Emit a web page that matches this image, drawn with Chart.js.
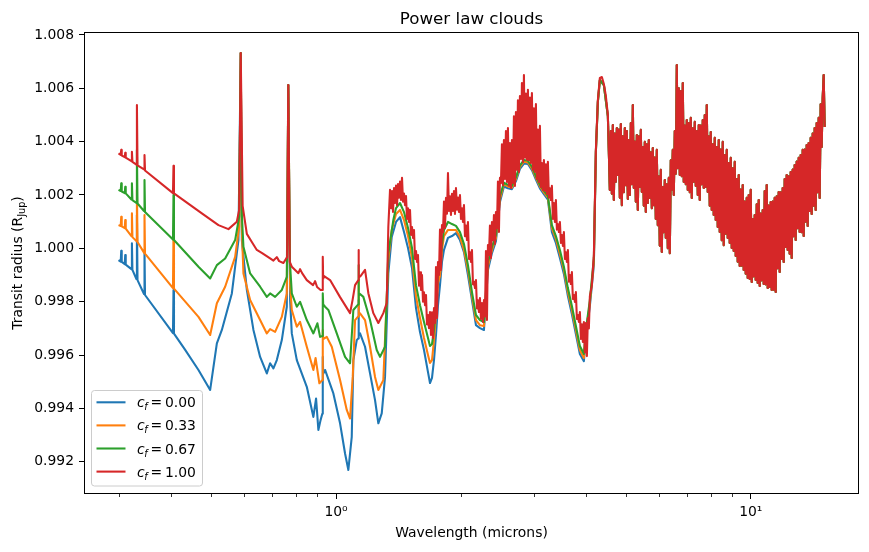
<!DOCTYPE html>
<html>
<head>
<meta charset="utf-8">
<script src="https://cdn.jsdelivr.net/npm/chart.js"></script>
<style>
  body { margin: 0; background: #fff; }
  canvas { display: block; }
</style>
</head>
<body>
<canvas id="spectrum" width="869" height="552"></canvas>
<script>
// [wavelength (microns), transit radius (R_Jup)]

// short-wavelength part of each curve, up to ~1.36 micron
const blueHead = [
  [0.2988, 0.99956],
  [0.30251, 0.99950], [0.30335, 0.99991], [0.30419, 0.99949],
  [0.30930, 0.99941], [0.31016, 0.99975], [0.31102, 0.99939],
  [0.32101, 0.99922], [0.32190, 1.00019], [0.32280, 0.99919],
  [0.33004, 0.99885], [0.33096, 1.00125], [0.33206, 0.99881],
  [0.34425, 0.99829], [0.34521, 0.99994], [0.34617, 0.99825],
  [0.40435, 0.99682], [0.40548, 0.99844], [0.40660, 0.99680],
  [0.43267, 0.99619], [0.46581, 0.99544], [0.49705, 0.99469],
  [0.51588, 0.99644], [0.53039, 0.99694], [0.56064, 0.99831],
  [0.58156, 1.00031], [0.589, 1.00732], [0.59263, 1.00031],
  [0.60931, 0.99844], [0.63203, 0.99694], [0.65597, 0.99593],
  [0.68082, 0.99531], [0.69339, 0.99569], [0.70620, 0.99550],
  [0.71966, 0.99581], [0.73990, 0.99656], [0.76072, 0.99781],
  [0.767, 1.00612], [0.77477, 0.99806], [0.78211, 0.99681],
  [0.80412, 0.99581], [0.85001, 0.99481], [0.88166, 0.99368],
  [0.89496, 0.99437], [0.90646, 0.99319], [0.91759, 0.99356],
  [0.9265, 0.99380], [0.92884, 0.99593], [0.9310, 0.99530],
  [0.94079, 0.99544], [0.98514, 0.99456], [1.02244, 0.99344],
  [1.05121, 0.99231], [1.07063, 0.99169], [1.09101, 0.99293],
  [1.10074, 0.99581], [1.12172, 0.99656], [1.1310, 0.99662],
  [1.13296, 0.99806], [1.1349, 0.99675], [1.14244, 0.99681],
  [1.17458, 0.99631], [1.20762, 0.99531], [1.24160, 0.99431],
  [1.26454, 0.99344], [1.28861, 0.99381], [1.31242, 0.99518],
  [1.33667, 0.99906], [1.36213, 1.00043]
];

const orangeHead = [
  [0.2988, 1.00087],
  [0.30251, 1.00084], [0.30335, 1.00118], [0.30419, 1.00082],
  [0.30930, 1.00076], [0.31016, 1.00106], [0.31102, 1.00074],
  [0.32101, 1.00046], [0.32190, 1.00131], [0.32280, 1.00042],
  [0.33004, 1.00027], [0.33096, 1.00219], [0.33206, 1.00024],
  [0.34425, 0.99984], [0.34521, 1.00125], [0.34617, 0.99980],
  [0.40435, 0.99851], [0.40548, 1.00050], [0.40660, 0.99849],
  [0.46581, 0.99743], [0.49705, 0.99675], [0.51588, 0.99794],
  [0.54019, 0.99856], [0.57101, 0.99968], [0.58382, 1.00081],
  [0.589, 1.00732], [0.59263, 1.00069], [0.59792, 0.99906],
  [0.62056, 0.99806], [0.65597, 0.99731], [0.68082, 0.99681],
  [0.69339, 0.99697], [0.71290, 0.99687], [0.73990, 0.99743],
  [0.76072, 0.99831], [0.767, 1.00612], [0.77477, 0.99862],
  [0.78211, 0.99769], [0.80412, 0.99706], [0.81898, 0.99724],
  [0.85001, 0.99631], [0.88166, 0.99544], [0.89248, 0.99589],
  [0.91149, 0.99494], [0.92629, 0.99506], [0.92884, 0.99694],
  [0.9310, 0.99660], [0.94972, 0.99668], [0.97643, 0.99631],
  [1.02244, 0.99506], [1.06118, 0.99394], [1.08077, 0.99362],
  [1.09706, 0.99518], [1.11118, 0.99731], [1.1310, 0.99745],
  [1.13296, 0.99881], [1.1349, 0.99750], [1.14244, 0.99756],
  [1.17458, 0.99731], [1.20762, 0.99631], [1.24160, 0.99518],
  [1.26454, 0.99469], [1.30010, 0.99506], [1.33667, 0.99956],
  [1.36213, 1.00069]
];

const greenHead = [
  [0.2988, 1.00219],
  [0.30251, 1.00215], [0.30335, 1.00244], [0.30419, 1.00213],
  [0.30930, 1.00207], [0.31016, 1.00231], [0.31102, 1.00206],
  [0.32101, 1.00183], [0.32190, 1.00244], [0.32280, 1.00181],
  [0.33004, 1.00170], [0.33096, 1.00369], [0.33206, 1.00168],
  [0.34425, 1.00140], [0.34521, 1.00256], [0.34617, 1.00136],
  [0.40435, 1.00033], [0.40548, 1.00200], [0.40660, 1.00031],
  [0.46581, 0.99931], [0.49705, 0.99887], [0.51588, 0.99937],
  [0.54019, 0.99962], [0.57101, 1.00031], [0.58382, 1.00118],
  [0.589, 1.00732], [0.59263, 1.00125], [0.59792, 1.00006],
  [0.62056, 0.99906], [0.65597, 0.99856], [0.68082, 0.99818],
  [0.69339, 0.99831], [0.71290, 0.99818], [0.73990, 0.99844],
  [0.76072, 0.99893], [0.767, 1.00612], [0.77391, 0.99949],
  [0.78211, 0.99831], [0.80412, 0.99781], [0.81898, 0.99799],
  [0.85001, 0.99731], [0.88166, 0.99681], [0.90144, 0.99719],
  [0.91505, 0.99668], [0.92629, 0.99671], [0.92884, 0.99831],
  [0.9310, 0.99790], [0.94079, 0.99781], [0.95818, 0.99769],
  [1.00389, 0.99681], [1.05121, 0.99593], [1.08077, 0.99569],
  [1.10074, 0.99769], [1.1310, 0.99790], [1.13296, 0.99937],
  [1.1349, 0.99825], [1.14244, 0.99829], [1.16355, 0.99818],
  [1.20762, 0.99731], [1.25337, 0.99619], [1.27651, 0.99593],
  [1.31242, 0.99631], [1.33667, 0.99981], [1.37427, 1.00106]
];

const redHead = [
  [0.2988, 1.00356],
  [0.30251, 1.00350], [0.30335, 1.00369], [0.30419, 1.00348],
  [0.30930, 1.00342], [0.31016, 1.00358], [0.31102, 1.00340],
  [0.32101, 1.00327], [0.32190, 1.00362], [0.32280, 1.00324],
  [0.33004, 1.00314], [0.33096, 1.00537], [0.33206, 1.00311],
  [0.34425, 1.00296], [0.34521, 1.00350], [0.34617, 1.00292],
  [0.40435, 1.00207], [0.40548, 1.00309], [0.40660, 1.00206],
  [0.47468, 1.00131], [0.52048, 1.00087], [0.55017, 1.00072],
  [0.57642, 1.00100], [0.58382, 1.00144], [0.589, 1.00732],
  [0.59527, 1.00159], [0.60931, 1.00054], [0.62644, 1.00024],
  [0.64407, 0.99994], [0.66329, 0.99982], [0.69339, 0.99962],
  [0.70620, 0.99954], [0.71966, 0.99967], [0.72889, 0.99952],
  [0.74649, 0.99945], [0.76198, 0.99967], [0.767, 1.00612],
  [0.77348, 0.99949], [0.78211, 0.99931], [0.81129, 0.99907],
  [0.81898, 0.99922], [0.82812, 0.99907], [0.85001, 0.99881],
  [0.88019, 0.99862], [0.89001, 0.99877], [0.89995, 0.99855],
  [0.91759, 0.99844], [0.92629, 0.99844], [0.92884, 0.99968],
  [0.9310, 0.99885], [0.93559, 0.99896], [0.96726, 0.99881],
  [1.02244, 0.99817], [1.08077, 0.99757], [1.09587, 0.99806],
  [1.11118, 0.99862], [1.1310, 0.99880], [1.13296, 0.99994],
  [1.1349, 0.99890], [1.14561, 0.99896], [1.17458, 0.99919],
  [1.19628, 0.99832], [1.22994, 0.99757], [1.26454, 0.99720],
  [1.30010, 0.99757], [1.32487, 0.99795], [1.33667, 1.00080]
];

// 1.35 - 4.5 micron: red is a dense noisy band (top/bottom of the band, one per pixel)
const redMid = [
  [1.34934, 1.00219], [1.35685, 1.00150], [1.36440, 1.00215], [1.37199, 1.00136],
  [1.37962, 1.00226], [1.38730, 1.00170], [1.39502, 1.00235], [1.40278, 1.00162],
  [1.41058, 1.00241], [1.41843, 1.00190], [1.42632, 1.00250], [1.43426, 1.00181],
  [1.44224, 1.00264], [1.45026, 1.00175], [1.45833, 1.00205], [1.46644, 1.00162],
  [1.47460, 1.00196], [1.48280, 1.00110], [1.49106, 1.00150], [1.49936, 1.00099],
  [1.50769, 1.00144], [1.51608, 1.00050], [1.52451, 1.00080], [1.53299, 1.00039],
  [1.54153, 1.00069], [1.55011, 0.99960], [1.55873, 0.99990], [1.56740, 0.99949],
  [1.57612, 0.99975], [1.58489, 0.99860], [1.59371, 0.99910], [1.60258, 0.99844],
  [1.61149, 0.99900], [1.62046, 0.99800], [1.62947, 0.99835], [1.63854, 0.99787],
  [1.64766, 0.99825], [1.65683, 0.99715], [1.66604, 0.99750], [1.67531, 0.99701],
  [1.68464, 0.99761], [1.69401, 0.99675], [1.70344, 0.99760], [1.71292, 0.99664],
  [1.72244, 0.99776], [1.73202, 0.99720], [1.74166, 0.99930], [1.75135, 0.99739],
  [1.76110, 0.99949], [1.77090, 0.99900], [1.78074, 1.00070], [1.79065, 0.99919],
  [1.80061, 1.00087], [1.81063, 1.00060], [1.82071, 1.00175], [1.83084, 1.00076],
  [1.84102, 1.00189], [1.85126, 1.00130], [1.86157, 1.00282], [1.87193, 1.00140],
  [1.88233, 1.00195], [1.89280, 1.00125], [1.90334, 1.00204], [1.91393, 1.00140],
  [1.92458, 1.00215], [1.93529, 1.00129], [1.94605, 1.00226], [1.95688, 1.00145],
  [1.96777, 1.00190], [1.97872, 1.00136], [1.98973, 1.00200], [2.00080, 1.00110],
  [2.01193, 1.00150], [2.02312, 1.00099], [2.03438, 1.00162], [2.04570, 1.00045],
  [2.05708, 1.00085], [2.06853, 1.00031], [2.08003, 1.00099], [2.09160, 0.99960],
  [2.10325, 0.99985], [2.11495, 0.99949], [2.12672, 0.99994], [2.13855, 0.99865],
  [2.15045, 0.99875], [2.16242, 0.99851], [2.17445, 0.99881], [2.18655, 0.99775],
  [2.19871, 0.99805], [2.21094, 0.99761], [2.22323, 0.99814], [2.23560, 0.99735],
  [2.24804, 0.99795], [2.26055, 0.99724], [2.27313, 0.99806], [2.28578, 0.99745],
  [2.29849, 0.99990], [2.31128, 0.99731], [2.32414, 1.00012], [2.33707, 0.99975],
  [2.35007, 1.00085], [2.36315, 0.99964], [2.37630, 1.00099], [2.38952, 1.00030],
  [2.40281, 1.00125], [2.41618, 1.00016], [2.42962, 1.00136], [2.44314, 1.00075],
  [2.45673, 1.00250], [2.47040, 1.00061], [2.48416, 1.00264], [2.49798, 1.00245],
  [2.51188, 1.00390], [2.52586, 1.00237], [2.53991, 1.00406], [2.55404, 1.00260],
  [2.56825, 1.00440], [2.58254, 1.00249], [2.59691, 1.00451], [2.61136, 1.00235],
  [2.62586, 1.00395], [2.64047, 1.00226], [2.65516, 1.00406], [2.66993, 1.00245],
  [2.68479, 1.00495], [2.69973, 1.00234], [2.71475, 1.00511], [2.72986, 1.00295],
  [2.74504, 1.00555], [2.76031, 1.00286], [2.77568, 1.00571], [2.79112, 1.00335],
  [2.80665, 1.00620], [2.82227, 1.00324], [2.83797, 1.00650], [2.85376, 1.00340],
  [2.86964, 1.00580], [2.88561, 1.00331], [2.90166, 1.00594], [2.91780, 1.00330],
  [2.93404, 1.00565], [2.95037, 1.00320], [2.96678, 1.00582], [2.98329, 1.00295],
  [2.99988, 1.00525], [3.01657, 1.00286], [3.03336, 1.00541], [3.05024, 1.00260],
  [3.06721, 1.00445], [3.08428, 1.00249], [3.10139, 1.00459], [3.11865, 1.00230],
  [3.13600, 1.00320], [3.15345, 1.00219], [3.17099, 1.00331], [3.18863, 1.00215],
  [3.20638, 1.00315], [3.22422, 1.00204], [3.24216, 1.00324], [3.26020, 1.00190],
  [3.27834, 1.00225], [3.29658, 1.00181], [3.31492, 1.00234], [3.33336, 1.00110],
  [3.35191, 1.00170], [3.37056, 1.00099], [3.38931, 1.00181], [3.40817, 1.00070],
  [3.42713, 1.00090], [3.44620, 1.00061], [3.46538, 1.00099], [3.48466, 1.00020],
  [3.50405, 1.00050], [3.52355, 1.00009], [3.54315, 1.00061], [3.56286, 0.99960],
  [3.58269, 0.99985], [3.60262, 0.99949], [3.62267, 0.99994], [3.64283, 0.99875],
  [3.66309, 0.99900], [3.68347, 0.99866], [3.70397, 0.99911], [3.72458, 0.99810],
  [3.74530, 0.99825], [3.76614, 0.99799], [3.78709, 0.99836], [3.80816, 0.99735],
  [3.82935, 0.99750], [3.85066, 0.99724], [3.87206, 0.99761], [3.89360, 0.99660],
  [3.91527, 0.99715], [3.93705, 0.99649], [3.95896, 0.99724], [3.98099, 0.99610],
  [4.00314, 0.99720], [4.02541, 0.99596], [4.04781, 0.99739], [4.07033, 0.99700],
  [4.09296, 0.99821], [4.13863, 0.99862], [4.18481, 0.99975], [4.23151, 1.00369],
  [4.27873, 1.00556], [4.32648, 1.00639], [4.37476, 1.00642], [4.42357, 1.00616],
  [4.47294, 1.00571], [4.52285, 1.00500]
];

// the other three curves over the same range, mostly hidden under the red band
const lowerWl = [
  1.39502, 1.42632, 1.45833, 1.49106, 1.52451, 1.55873, 1.59371, 1.62947, 1.66604, 1.68464,
  1.70344, 1.72244, 1.74166, 1.76110, 1.78074, 1.80061, 1.82071, 1.86157, 1.90334, 1.94605,
  1.98973, 2.03438, 2.08003, 2.12672, 2.17445, 2.22323, 2.27313, 2.32414, 2.37630, 2.42962,
  2.48416, 2.53991, 2.59691, 2.65516, 2.71475, 2.77568, 2.83797, 2.90166, 2.96678, 3.03336,
  3.10139, 3.17099, 3.24216, 3.31492, 3.38931, 3.46538, 3.54315, 3.62267, 3.70397, 3.78709,
  3.87206, 3.95896, 4.00314, 4.09296, 4.18481, 4.23151, 4.27873, 4.32648, 4.42357, 4.52285
];
const blueMid = [
  1.00099, 1.00117, 1.00061, 1.00001, 0.99926, 0.99776, 0.99686, 0.99619, 0.99536, 0.99495,
  0.99514, 0.99581, 0.99675, 0.99787, 0.99862, 0.99949, 0.99994, 1.00039, 1.00046, 1.00057,
  1.00031, 0.99986, 0.99900, 0.99806, 0.99712, 0.99701, 0.99694, 0.99919, 0.99982, 1.00027,
  1.00174, 1.00232, 1.00225, 1.00222, 1.00252, 1.00298, 1.00318, 1.00316, 1.00293, 1.00258,
  1.00225, 1.00203, 1.00183, 1.00061, 1.00020, 0.99964, 0.99904, 0.99821, 0.99754, 0.99679,
  0.99604, 0.99577, 0.99664, 0.99784, 0.99937, 1.00361, 1.00549, 1.00631, 1.00612, 1.00496
];
const orangeMid = [
  1.00129, 1.00144, 1.00106, 1.00046, 0.99964, 0.99821, 0.99739, 0.99664, 0.99600, 0.99570,
  0.99581, 0.99656, 0.99750, 0.99870, 0.99896, 0.99994, 1.00046, 1.00069, 1.00069, 1.00069,
  1.00042, 0.99994, 0.99919, 0.99821, 0.99731, 0.99712, 0.99709, 0.99934, 0.99994, 1.00039,
  1.00185, 1.00240, 1.00232, 1.00228, 1.00260, 1.00305, 1.00325, 1.00322, 1.00300, 1.00265,
  1.00232, 1.00210, 1.00190, 1.00076, 1.00035, 0.99979, 0.99919, 0.99836, 0.99769, 0.99694,
  0.99619, 0.99589, 0.99679, 0.99795, 0.99949, 1.00361, 1.00549, 1.00631, 1.00612, 1.00496
];
const greenMid = [
  1.00151, 1.00170, 1.00136, 1.00076, 1.00001, 0.99862, 0.99787, 0.99724, 0.99664, 0.99634,
  0.99641, 0.99694, 0.99787, 0.99900, 0.99934, 1.00016, 1.00069, 1.00099, 1.00091, 1.00084,
  1.00061, 1.00016, 0.99937, 0.99836, 0.99750, 0.99731, 0.99724, 0.99949, 1.00005, 1.00050,
  1.00196, 1.00246, 1.00238, 1.00234, 1.00266, 1.00311, 1.00331, 1.00328, 1.00306, 1.00271,
  1.00238, 1.00216, 1.00196, 1.00087, 1.00046, 0.99994, 0.99931, 0.99851, 0.99784, 0.99709,
  0.99634, 0.99604, 0.99694, 0.99806, 0.99964, 1.00361, 1.00549, 1.00631, 1.00612, 1.00496
];

// beyond ~4.5 micron all four curves coincide
const tail = [
  [4.57329, 1.00219], [4.59874, 1.00440], [4.62432, 1.00205], [4.65005, 1.00462],
  [4.67592, 1.00181], [4.70194, 1.00430], [4.72810, 1.00250], [4.75441, 1.00451],
  [4.78086, 1.00275], [4.80746, 1.00445], [4.83421, 1.00190], [4.86111, 1.00466],
  [4.88815, 1.00162], [4.91535, 1.00420], [4.94270, 1.00210], [4.97020, 1.00451],
  [4.99785, 1.00237], [5.02566, 1.00440], [5.05362, 1.00185], [5.08174, 1.00406],
  [5.10999, 1.00200], [5.13842, 1.00470], [5.16701, 1.00240], [5.19576, 1.00537],
  [5.22467, 1.00226], [5.25374, 1.00400], [5.28297, 1.00175], [5.31236, 1.00425],
  [5.34192, 1.00144], [5.37164, 1.00420], [5.40153, 1.00230], [5.43158, 1.00444],
  [5.46180, 1.00211], [5.49219, 1.00380], [5.52275, 1.00160], [5.55348, 1.00399],
  [5.58438, 1.00136], [5.61545, 1.00390], [5.64669, 1.00170], [5.67811, 1.00406],
  [5.70969, 1.00189], [5.74146, 1.00360], [5.77340, 1.00150], [5.80552, 1.00376],
  [5.83782, 1.00162], [5.87030, 1.00340], [5.90296, 1.00110], [5.93580, 1.00369],
  [5.96883, 1.00087], [6.00204, 1.00270], [6.03541, 1.00010], [6.06899, 1.00294],
  [6.10276, 0.99986], [6.13671, 1.00230], [6.17086, 1.00060], [6.20519, 1.00256],
  [6.23972, 1.00039], [6.27444, 1.00240], [6.30934, 1.00000], [6.34444, 1.00264],
  [6.37975, 0.99982], [6.41525, 1.00330], [6.45094, 1.00220], [6.48683, 1.00369],
  [6.52292, 1.00200], [6.55921, 1.00440], [6.59571, 1.00280], [6.63241, 1.00687],
  [6.66930, 1.00300], [6.70641, 1.00600], [6.74369, 1.00275], [6.78121, 1.00590],
  [6.81894, 1.00270], [6.85688, 1.00620], [6.89503, 1.00249], [6.93339, 1.00460],
  [6.97197, 1.00240], [7.01076, 1.00481], [7.04977, 1.00219], [7.08900, 1.00470],
  [7.12841, 1.00210], [7.16807, 1.00489], [7.20795, 1.00189], [7.24805, 1.00450],
  [7.28838, 1.00250], [7.32893, 1.00474], [7.36971, 1.00234], [7.41071, 1.00440],
  [7.45194, 1.00200], [7.49340, 1.00462], [7.53509, 1.00181], [7.57702, 1.00460],
  [7.61917, 1.00240], [7.66156, 1.00481], [7.70419, 1.00226], [7.74706, 1.00500],
  [7.79016, 1.00230], [7.83350, 1.00537], [7.87709, 1.00211], [7.92092, 1.00420],
  [7.96497, 1.00160], [8.00929, 1.00436], [8.05385, 1.00144], [8.09866, 1.00390],
  [8.14372, 1.00125], [8.18903, 1.00414], [8.23459, 1.00106], [8.28041, 1.00380],
  [8.32648, 1.00080], [8.37281, 1.00406], [8.41934, 1.00061], [8.46619, 1.00370],
  [8.51329, 1.00030], [8.56066, 1.00399], [8.60828, 1.00012], [8.65618, 1.00350],
  [8.70434, 1.00055], [8.75277, 1.00369], [8.80147, 1.00039], [8.85044, 1.00320],
  [8.89964, 1.00020], [8.94916, 1.00339], [8.99895, 1.00001], [9.04902, 1.00300],
  [9.09936, 0.99990], [9.14999, 1.00324], [9.20090, 0.99971], [9.25209, 1.00260],
  [9.30357, 0.99950], [9.35534, 1.00275], [9.40734, 0.99934], [9.45968, 1.00220],
  [9.51231, 0.99935], [9.56524, 1.00237], [9.61846, 0.99919], [9.67198, 1.00175],
  [9.72579, 0.99905], [9.77990, 1.00189], [9.83431, 0.99889], [9.88903, 1.00200],
  [9.94399, 0.99885], [9.99932, 1.00219], [10.0550, 0.99874], [10.1109, 1.00110],
  [10.1672, 0.99895], [10.2238, 1.00125], [10.2806, 0.99881], [10.3378, 1.00165],
  [10.3954, 0.99870], [10.4532, 1.00181], [10.5113, 0.99859], [10.5698, 1.00130],
  [10.6286, 0.99880], [10.6877, 1.00144], [10.7472, 0.99866], [10.8070, 1.00215],
  [10.8671, 0.99865], [10.9276, 1.00237], [10.9884, 0.99851], [11.0495, 1.00160],
  [11.1110, 0.99855], [11.1728, 1.00174], [11.2350, 0.99844], [11.2975, 1.00175],
  [11.3603, 0.99845], [11.4235, 1.00189], [11.4871, 0.99836], [11.5510, 1.00195],
  [11.6153, 0.99925], [11.6799, 1.00211], [11.7448, 0.99911], [11.8101, 1.00210],
  [11.8759, 0.99960], [11.9420, 1.00226], [12.0084, 0.99949], [12.0752, 1.00260],
  [12.1424, 1.00005], [12.2100, 1.00275], [12.2779, 0.99994], [12.3462, 1.00270],
  [12.4148, 0.99980], [12.4839, 1.00286], [12.5533, 0.99964], [12.6231, 1.00295],
  [12.6934, 1.00045], [12.7640, 1.00312], [12.8350, 1.00031], [12.9064, 1.00325],
  [12.9783, 1.00075], [13.0505, 1.00339], [13.1231, 1.00061], [13.1961, 1.00350],
  [13.2695, 1.00060], [13.3433, 1.00369], [13.4176, 1.00046], [13.4923, 1.00370],
  [13.5673, 1.00100], [13.6428, 1.00387], [13.7187, 1.00084], [13.7950, 1.00395],
  [13.8717, 1.00140], [13.9489, 1.00414], [14.0265, 1.00129], [14.1045, 1.00430],
  [14.1830, 1.00160], [14.2619, 1.00451], [14.3413, 1.00144], [14.4211, 1.00470],
  [14.5013, 1.00210], [14.5820, 1.00489], [14.6631, 1.00189], [14.7447, 1.00540],
  [14.8267, 1.00380], [14.9092, 1.00564], [14.9922, 1.00650], [15.0756, 1.00455]
];

const cloudFractions = ['0.00', '0.33', '0.67', '1.00'];
const radiusTicks = [0.992, 0.994, 0.996, 0.998, 1.000, 1.002, 1.004, 1.006, 1.008];
const majorTicks = [1, 10];
const xTickLabels = ['10\u2070', '10\u00b9'];
const minorTicks = [0.3, 0.4, 0.5, 0.6, 0.7, 0.8, 0.9, 2, 3, 4, 5, 6, 7, 8, 9];

const colors = ['#1f77b4', '#ff7f0e', '#2ca02c', '#d62728'];
const FONT = '"DejaVu Sans", sans-serif';
const LINE_W = 2.08;   // 1.5pt at 100 dpi

const withMid = (mid) => lowerWl.map((w, i) => [w, mid[i]]);
const curves = [
  blueHead.concat(withMid(blueMid), tail),
  orangeHead.concat(withMid(orangeMid), tail),
  greenHead.concat(withMid(greenMid), tail),
  redHead.concat(redMid, tail)
];

const datasets = curves.map((rows, i) => ({
  label: 'c_f = ' + cloudFractions[i],
  data: rows.map(([x, y]) => ({ x, y })),
  borderColor: colors[i],
  borderWidth: LINE_W,
  borderJoinStyle: 'round',
  pointRadius: 0,
  tension: 0,
  order: 3 - i   // red drawn on top, like matplotlib
}));

// spines, minor ticks, titles, legend
const decorations = {
  id: 'decorations',
  afterDraw(chart) {
    const { ctx, chartArea: a, scales } = chart;
    ctx.save();
    ctx.strokeStyle = '#000';
    ctx.lineWidth = 1;
    ctx.strokeRect(a.left + 0.5, a.top + 0.5, a.right - a.left - 1, a.bottom - a.top - 1);

    ctx.lineWidth = 0.8;
    minorTicks.forEach(v => {
      const px = Math.round(scales.x.getPixelForValue(v)) + 0.5;
      ctx.beginPath();
      ctx.moveTo(px, a.bottom);
      ctx.lineTo(px, a.bottom + 3);
      ctx.stroke();
    });

    ctx.fillStyle = '#000';
    const cx = (a.left + a.right) / 2;
    ctx.font = '16.7px ' + FONT;
    ctx.textAlign = 'center';
    ctx.textBaseline = 'alphabetic';
    ctx.fillText('Power law clouds', cx, a.top - 8.3);

    ctx.font = '13.9px ' + FONT;
    ctx.fillText('Wavelength (microns)', cx, 537);

    // y label with subscript
    const p1 = 'Transit radius (R', sub = 'Jup', p2 = ')';
    ctx.font = '13.9px ' + FONT;
    const w1 = ctx.measureText(p1).width, w2 = ctx.measureText(p2).width;
    ctx.font = '9.7px ' + FONT;
    const ws = ctx.measureText(sub).width;
    const total = w1 + ws + w2;
    ctx.save();
    ctx.translate(21.5, (a.top + a.bottom) / 2);
    ctx.rotate(-Math.PI / 2);
    ctx.textAlign = 'left';
    ctx.font = '13.9px ' + FONT;
    ctx.fillText(p1, -total / 2, 0);
    ctx.font = '9.7px ' + FONT;
    ctx.fillText(sub, -total / 2 + w1, 3);
    ctx.font = '13.9px ' + FONT;
    ctx.fillText(p2, -total / 2 + w1 + ws, 0);
    ctx.restore();

    // legend
    ctx.beginPath();
    ctx.roundRect(91.5, 390.5, 111, 95.5, 3);
    ctx.fillStyle = 'rgba(255,255,255,0.8)';
    ctx.fill();
    ctx.strokeStyle = '#cccccc';
    ctx.lineWidth = 1;
    ctx.stroke();
    chart.data.datasets.forEach((ds, i) => {
      const y = 402.3 + i * 23.1;
      ctx.strokeStyle = ds.borderColor;
      ctx.lineWidth = LINE_W;
      ctx.beginPath();
      ctx.moveTo(96.5, y);
      ctx.lineTo(125.5, y);
      ctx.stroke();
      ctx.fillStyle = '#000';
      ctx.textAlign = 'left';
      ctx.font = 'italic 13.9px ' + FONT;
      ctx.fillText('c', 137, y + 5);
      ctx.font = 'italic 9.7px ' + FONT;
      ctx.fillText('f', 144.3, y + 8);
      ctx.font = '13.9px ' + FONT;
      ctx.fillText('=', 150.5, y + 5);
      ctx.fillText(ds.label.split('= ')[1], 165, y + 5);
    });
    ctx.restore();
  }
};

const tickFont = { family: FONT, size: 13.9 };

new Chart(document.getElementById('spectrum').getContext('2d'), {
  type: 'line',
  data: { datasets },
  options: {
    responsive: false,
    animation: false,
    devicePixelRatio: 1,
    layout: { padding: { top: 32, right: 10, left: 0, bottom: 0 } },
    plugins: {
      legend: { display: false },
      title: { display: false },
      tooltip: { enabled: false }
    },
    scales: {
      x: {
        type: 'logarithmic',
        min: 0.2467,
        max: 18.24,
        afterBuildTicks: s => { s.ticks = majorTicks.map(v => ({ value: v, major: true })); },
        afterFit: s => { s.height = 58; },
        ticks: {
          callback: (v, i) => xTickLabels[i],
          autoSkip: false, maxRotation: 0, minRotation: 0,
          padding: 5, color: '#000', font: tickFont
        },
        grid: { drawOnChartArea: false, tickLength: 5, tickColor: '#000', tickWidth: 1 },
        border: { display: false }
      },
      y: {
        min: 0.99079,
        max: 1.00811,
        afterBuildTicks: s => { s.ticks = radiusTicks.map(v => ({ value: v })); },
        afterFit: s => { s.width = 84; },
        ticks: {
          callback: v => v.toFixed(3),
          padding: 5, color: '#000', font: tickFont
        },
        grid: { drawOnChartArea: false, tickLength: 5, tickColor: '#000', tickWidth: 1 },
        border: { display: false }
      }
    }
  },
  plugins: [decorations]
});
</script>
</body>
</html>
